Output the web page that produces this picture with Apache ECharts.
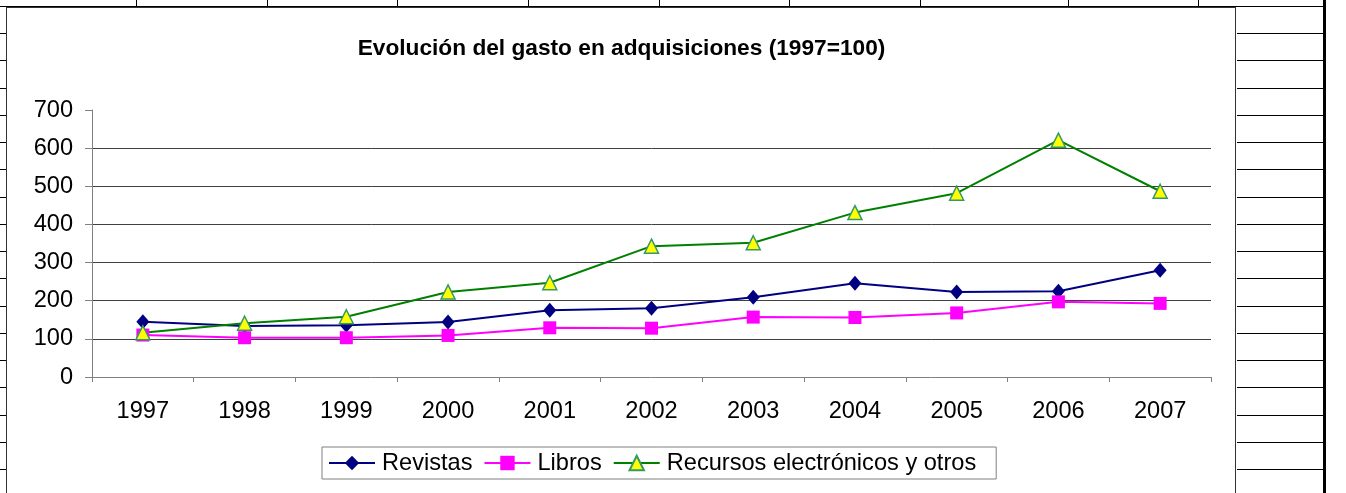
<!DOCTYPE html>
<html>
<head>
<meta charset="utf-8">
<script src="https://cdn.jsdelivr.net/npm/echarts@6/dist/echarts.min.js"></script>
<style>
  html, body { margin: 0; padding: 0; background: #fff; }
  #page { position: relative; width: 1346px; height: 493px; overflow: hidden; background: #fff; }
  .ln { position: absolute; background: #000; }
  #box { position: absolute; left: 6px; top: 7px; width: 1230px; height: 500px; border: 1px solid #333; background: #fff; box-sizing: border-box; }
  #chart { position: absolute; left: 6px; top: 7px; width: 1231px; height: 486px; }
</style>
</head>
<body>
<div id="page">
  <div id="deco"></div>
  <div id="box"></div>
  <div id="chart"></div>
</div>
<script>
const categories = ['1997', '1998', '1999', '2000', '2001', '2002', '2003', '2004', '2005', '2006', '2007'];
const revistas = [145, 134, 136, 144, 175, 180, 209, 246, 223, 225, 280];
const libros = [110, 103, 103, 109, 129, 128, 157, 156, 168, 197, 193];
const recursos = [116, 141, 158, 223, 247, 343, 352, 431, 482, 621, 487];
const seriesNames = ['Revistas', 'Libros', 'Recursos electrónicos y otros'];
const chartTitle = 'Evolución del gasto en adquisiciones (1997=100)';

// spreadsheet background decoration
(function () {
  const deco = document.getElementById('deco');
  function line(x, y, w, h) {
    const d = document.createElement('div');
    d.className = 'ln';
    d.style.left = x + 'px'; d.style.top = y + 'px';
    d.style.width = w + 'px'; d.style.height = h + 'px';
    deco.appendChild(d);
  }
  const colX = [136, 267, 397, 528, 659, 789, 920, 1068, 1198];
  colX.forEach(x => line(x, 0, 1, 7));
  line(0, 6, 1325, 1);
  for (let k = 1; k <= 18; k++) {
    const y = Math.round(6 + 27.24 * k);
    line(0, y, 6, 1);
    line(1237, y, 88, 1);
  }
  line(1323, 0, 3, 493);
})();

const FONT = '"Liberation Sans", Arial, sans-serif';
const chart = echarts.init(document.getElementById('chart'), null, { renderer: 'canvas' });
chart.setOption({
  backgroundColor: 'transparent',
  animation: false,
  title: {
    text: chartTitle,
    left: 'center',
    top: 25,
    textStyle: { fontFamily: FONT, fontSize: 22.7, fontWeight: 'bold', color: '#000' }
  },
  legend: {
    data: seriesNames,
    left: 316,
    top: 440,
    orient: 'horizontal',
    itemWidth: 46,
    itemHeight: 18,
    itemGap: 11,
    padding: [4, 20, 4, 6],
    borderColor: '#808080',
    borderWidth: 1,
    backgroundColor: '#fff',
    textStyle: { fontFamily: FONT, fontSize: 23.6, color: '#000', padding: [0, 0, 0, 2] }
  },
  grid: { left: 86, right: 26, top: 103, bottom: 116, containLabel: false },
  xAxis: {
    type: 'category',
    data: categories,
    boundaryGap: true,
    axisLine: { lineStyle: { color: '#808080', width: 1 } },
    axisTick: { show: true, length: 5, lineStyle: { color: '#808080' } },
    axisLabel: { fontFamily: FONT, fontSize: 23.6, color: '#000', margin: 22 },
    splitLine: { show: false }
  },
  yAxis: {
    type: 'value',
    min: 0, max: 700, interval: 100,
    axisLine: { show: true, lineStyle: { color: '#808080', width: 1 } },
    axisTick: { show: true, length: 7, lineStyle: { color: '#808080' } },
    axisLabel: { fontFamily: FONT, fontSize: 23.6, color: '#000', margin: 19 },
    splitLine: { show: true, showMinLine: false, showMaxLine: false, lineStyle: { color: '#404040', width: 1 } }
  },
  series: [
    {
      name: seriesNames[0], type: 'line', data: revistas,
      symbol: 'diamond', symbolSize: [13, 15],
      lineStyle: { color: '#000080', width: 2 },
      itemStyle: { color: '#000080' }
    },
    {
      name: seriesNames[1], type: 'line', data: libros,
      symbol: 'rect', symbolSize: 13,
      lineStyle: { color: '#FF00FF', width: 2 },
      itemStyle: { color: '#FF00FF' }
    },
    {
      name: seriesNames[2], type: 'line', data: recursos,
      symbol: 'triangle', symbolSize: 14,
      lineStyle: { color: '#008000', width: 2 },
      itemStyle: { color: '#FFFF00', borderColor: '#339966', borderWidth: 1.5 }
    }
  ]
});
</script>
</body>
</html>
